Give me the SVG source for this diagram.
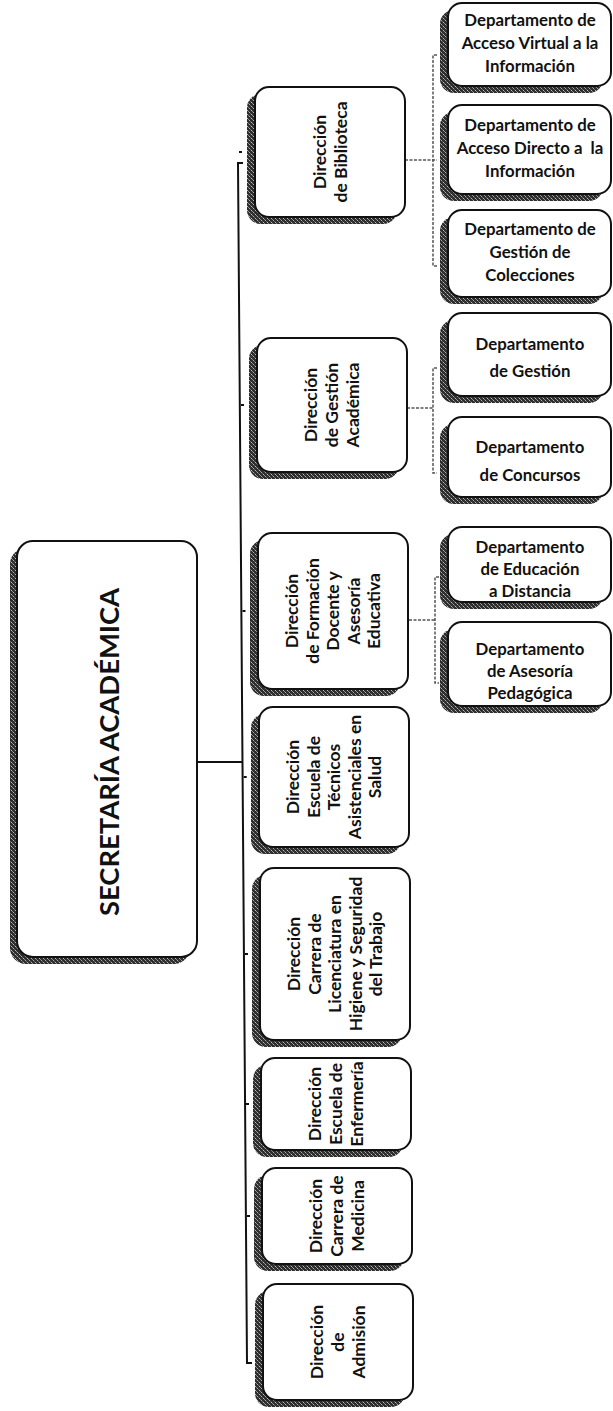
<svg xmlns="http://www.w3.org/2000/svg" width="613" height="1411" viewBox="0 0 613 1411">
<style>
.box{fill:#fff;stroke:#111;stroke-width:2}
.t{font-family:Lato,Carlito,"Liberation Sans",sans-serif;font-weight:bold;font-size:16.8px;fill:#111;text-anchor:middle}
.d{font-size:17.5px}
.title{font-size:27px}
.bus{stroke:#111;stroke-width:2;fill:none}
.dbus{stroke:#555;stroke-width:1.5;fill:none;stroke-dasharray:3 1.5}
</style>
<defs>
  <pattern id="speck" width="4" height="4" patternUnits="userSpaceOnUse">
    <rect width="4" height="4" fill="#2e2e2e"/>
    <rect x="1" y="0" width="1" height="1" fill="#aaa"/>
    <rect x="3" y="2" width="1" height="1" fill="#bbb"/>
    <rect x="0" y="3" width="1" height="1" fill="#888"/>
    <rect x="2" y="1" width="1" height="1" fill="#666"/>
  </pattern>
</defs>
<rect width="613" height="1411" fill="#fff"/>
<g id="connectors">
  <path class="bus" d="M197,762 H242.5"/>
  <path class="bus" d="M243,163 H238 L247,1363 H252"/>
  <path class="bus" d="M239,152 h3 M241,405 h3 M242.5,611 h3 M243.7,777 h3 M245,954 h3 M246,1104 h3 M247,1216 h3"/>
  <path class="dbus" d="M405,160 H437 M437,55 H433 V266 H437"/>
  <path class="dbus" d="M407,408 H433 M437,368 H433 V473 H437"/>
  <path class="dbus" d="M409,620 H435 M439,577 H435 V683 H439"/>
</g>
<g id="secretaria">
  <rect fill="url(#speck)" x="10" y="548" width="180" height="416" rx="16"/>
  <rect class="box" x="17" y="541" width="180" height="416" rx="16"/>
  <text class="t title" transform="translate(110,752) rotate(-90)" x="0" y="0" dy="0.35em" textLength="328" lengthAdjust="spacingAndGlyphs">SECRETARÍA ACADÉMICA</text>
</g>
<g id="dir-biblioteca">
  <rect fill="url(#speck)" x="247" y="94" width="150" height="130" rx="14"/>
  <rect class="box" x="255" y="87" width="150" height="130" rx="14"/>
  <text class="t d" transform="translate(330,152) rotate(-90)"><tspan x="0" y="-10.5" dy="0.35em">Dirección</tspan><tspan x="0" y="10.5" dy="0.35em">de Biblioteca</tspan></text>
</g>
<g id="dir-gestion">
  <rect fill="url(#speck)" x="249" y="345" width="150" height="134" rx="14"/>
  <rect class="box" x="257" y="338" width="150" height="134" rx="14"/>
  <text class="t d" transform="translate(332,405) rotate(-90)"><tspan x="0" y="-21" dy="0.35em">Dirección</tspan><tspan x="0" y="0" dy="0.35em">de Gestión</tspan><tspan x="0" y="21" dy="0.35em">Académica</tspan></text>
</g>
<g id="dir-formacion">
  <rect fill="url(#speck)" x="250" y="540" width="150" height="156" rx="14"/>
  <rect class="box" x="258" y="533" width="150" height="156" rx="14"/>
  <text class="t d" transform="translate(333,611) rotate(-90)"><tspan x="0" y="-41" dy="0.35em">Dirección</tspan><tspan x="0" y="-20.5" dy="0.35em">de Formación</tspan><tspan x="0" y="0" dy="0.35em">Docente y</tspan><tspan x="0" y="20.5" dy="0.35em">Asesoría</tspan><tspan x="0" y="41" dy="0.35em">Educativa</tspan></text>
</g>
<g id="dir-tecnicos">
  <rect fill="url(#speck)" x="251" y="714" width="150" height="140" rx="14"/>
  <rect class="box" x="259" y="707" width="150" height="140" rx="14"/>
  <text class="t d" transform="translate(334,777) rotate(-90)"><tspan x="0" y="-41" dy="0.35em">Dirección</tspan><tspan x="0" y="-20.5" dy="0.35em">Escuela de</tspan><tspan x="0" y="0" dy="0.35em">Técnicos</tspan><tspan x="0" y="20.5" dy="0.35em">Asistenciales en</tspan><tspan x="0" y="41" dy="0.35em">Salud</tspan></text>
</g>
<g id="dir-licenciatura">
  <rect fill="url(#speck)" x="252" y="875" width="150" height="172" rx="14"/>
  <rect class="box" x="260" y="868" width="150" height="172" rx="14"/>
  <text class="t d" transform="translate(335,954) rotate(-90)"><tspan x="0" y="-41" dy="0.35em">Dirección</tspan><tspan x="0" y="-20.5" dy="0.35em">Carrera de</tspan><tspan x="0" y="0" dy="0.35em">Licenciatura en</tspan><tspan x="0" y="20.5" dy="0.35em">Higiene y Seguridad</tspan><tspan x="0" y="41" dy="0.35em">del Trabajo</tspan></text>
</g>
<g id="dir-enfermeria">
  <rect fill="url(#speck)" x="253" y="1065" width="150" height="92" rx="14"/>
  <rect class="box" x="261" y="1058" width="150" height="92" rx="14"/>
  <text class="t d" transform="translate(336,1104) rotate(-90)"><tspan x="0" y="-21" dy="0.35em">Dirección</tspan><tspan x="0" y="0" dy="0.35em">Escuela de</tspan><tspan x="0" y="21" dy="0.35em">Enfermería</tspan></text>
</g>
<g id="dir-medicina">
  <rect fill="url(#speck)" x="254" y="1175" width="150" height="96" rx="14"/>
  <rect class="box" x="262" y="1168" width="150" height="96" rx="14"/>
  <text class="t d" transform="translate(337,1216) rotate(-90)"><tspan x="0" y="-21" dy="0.35em">Dirección</tspan><tspan x="0" y="0" dy="0.35em">Carrera de</tspan><tspan x="0" y="21" dy="0.35em">Medicina</tspan></text>
</g>
<g id="dir-admision">
  <rect fill="url(#speck)" x="255" y="1291" width="150" height="116" rx="14"/>
  <rect class="box" x="263" y="1284" width="150" height="116" rx="14"/>
  <text class="t d" transform="translate(338,1342) rotate(-90)"><tspan x="0" y="-21" dy="0.35em">Dirección</tspan><tspan x="0" y="0" dy="0.35em">de</tspan><tspan x="0" y="21" dy="0.35em">Admisión</tspan></text>
</g>
<g id="dep-acceso-virtual">
  <rect fill="url(#speck)" x="440" y="10" width="163" height="83" rx="14"/>
  <rect class="box" x="448" y="3" width="163" height="83" rx="14"/>
  <text class="t"><tspan x="530" y="26">Departamento de</tspan><tspan x="530" y="49">Acceso Virtual a la</tspan><tspan x="530" y="72">Información</tspan></text>
</g>
<g id="dep-acceso-directo">
  <rect fill="url(#speck)" x="440" y="112" width="163" height="89" rx="14"/>
  <rect class="box" x="448" y="105" width="163" height="89" rx="14"/>
  <text class="t" xml:space="preserve"><tspan x="530" y="131">Departamento de</tspan><tspan x="530" y="154">Acceso Directo a  la</tspan><tspan x="530" y="177">Información</tspan></text>
</g>
<g id="dep-colecciones">
  <rect fill="url(#speck)" x="440" y="217" width="163" height="87" rx="14"/>
  <rect class="box" x="448" y="210" width="163" height="87" rx="14"/>
  <text class="t"><tspan x="530" y="235">Departamento de</tspan><tspan x="530" y="258">Gestión de</tspan><tspan x="530" y="281">Colecciones</tspan></text>
</g>
<g id="dep-gestion">
  <rect fill="url(#speck)" x="440" y="320" width="163" height="83" rx="14"/>
  <rect class="box" x="448" y="313" width="163" height="83" rx="14"/>
  <text class="t"><tspan x="530" y="350">Departamento</tspan><tspan x="530" y="377">de Gestión</tspan></text>
</g>
<g id="dep-concursos">
  <rect fill="url(#speck)" x="440" y="424" width="163" height="80" rx="14"/>
  <rect class="box" x="448" y="417" width="163" height="80" rx="14"/>
  <text class="t"><tspan x="530" y="453">Departamento</tspan><tspan x="530" y="481">de Concursos</tspan></text>
</g>
<g id="dep-educacion">
  <rect fill="url(#speck)" x="440" y="534" width="163" height="75" rx="14"/>
  <rect class="box" x="448" y="527" width="163" height="75" rx="14"/>
  <text class="t"><tspan x="530" y="553">Departamento</tspan><tspan x="530" y="575">de Educación</tspan><tspan x="530" y="597">a Distancia</tspan></text>
</g>
<g id="dep-asesoria">
  <rect fill="url(#speck)" x="440" y="629" width="163" height="84" rx="14"/>
  <rect class="box" x="448" y="622" width="163" height="84" rx="14"/>
  <text class="t"><tspan x="530" y="655">Departamento</tspan><tspan x="530" y="677">de Asesoría</tspan><tspan x="530" y="699">Pedagógica</tspan></text>
</g>
</svg>
